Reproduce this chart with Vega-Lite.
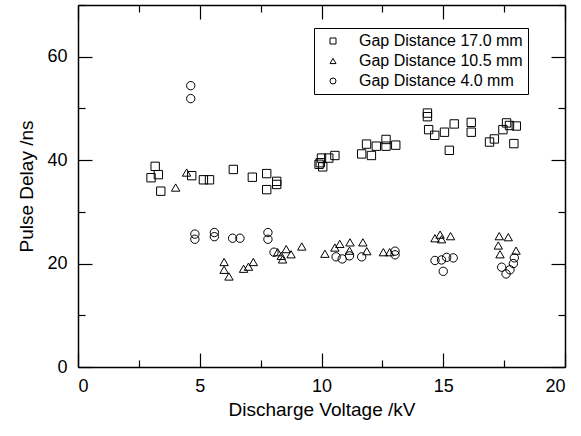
{
  "$schema": "https://vega.github.io/schema/vega-lite/v6.json",
  "width": 487,
  "height": 362,
  "autosize": {"type": "none"},
  "padding": {"left": 78, "top": 5, "right": 16, "bottom": 69},
  "background": "white",
  "config": {
    "view": {"stroke": null},
    "font": "Liberation Sans",
    "axis": {
      "domainColor": "black",
      "domainWidth": 1.5,
      "tickColor": "black",
      "tickWidth": 1.2,
      "grid": false,
      "labelFont": "Liberation Sans",
      "labelFontSize": 18,
      "labelColor": "black",
      "titleFont": "Liberation Sans",
      "titleFontSize": 19,
      "titleFontWeight": "normal",
      "titleColor": "black"
    }
  },
  "data": {
    "values": [
      {"v": 3.0, "d": 36.6, "gap": "Gap Distance 17.0 mm"},
      {"v": 3.17, "d": 38.8, "gap": "Gap Distance 17.0 mm"},
      {"v": 3.3, "d": 37.2, "gap": "Gap Distance 17.0 mm"},
      {"v": 3.4, "d": 34.0, "gap": "Gap Distance 17.0 mm"},
      {"v": 4.67, "d": 37.0, "gap": "Gap Distance 17.0 mm"},
      {"v": 5.15, "d": 36.2, "gap": "Gap Distance 17.0 mm"},
      {"v": 5.4, "d": 36.2, "gap": "Gap Distance 17.0 mm"},
      {"v": 6.38, "d": 38.2, "gap": "Gap Distance 17.0 mm"},
      {"v": 7.16, "d": 36.7, "gap": "Gap Distance 17.0 mm"},
      {"v": 7.75, "d": 37.4, "gap": "Gap Distance 17.0 mm"},
      {"v": 7.75, "d": 34.3, "gap": "Gap Distance 17.0 mm"},
      {"v": 8.16, "d": 35.3, "gap": "Gap Distance 17.0 mm"},
      {"v": 8.16, "d": 35.9, "gap": "Gap Distance 17.0 mm"},
      {"v": 9.9, "d": 39.2, "gap": "Gap Distance 17.0 mm"},
      {"v": 9.95, "d": 39.5, "gap": "Gap Distance 17.0 mm"},
      {"v": 10.0, "d": 40.4, "gap": "Gap Distance 17.0 mm"},
      {"v": 10.05, "d": 38.7, "gap": "Gap Distance 17.0 mm"},
      {"v": 10.3, "d": 40.4, "gap": "Gap Distance 17.0 mm"},
      {"v": 10.55, "d": 40.9, "gap": "Gap Distance 17.0 mm"},
      {"v": 11.65, "d": 41.2, "gap": "Gap Distance 17.0 mm"},
      {"v": 11.85, "d": 43.1, "gap": "Gap Distance 17.0 mm"},
      {"v": 12.05, "d": 40.9, "gap": "Gap Distance 17.0 mm"},
      {"v": 12.25, "d": 42.7, "gap": "Gap Distance 17.0 mm"},
      {"v": 12.65, "d": 44.0, "gap": "Gap Distance 17.0 mm"},
      {"v": 12.65, "d": 42.7, "gap": "Gap Distance 17.0 mm"},
      {"v": 13.05, "d": 42.9, "gap": "Gap Distance 17.0 mm"},
      {"v": 14.35, "d": 49.1, "gap": "Gap Distance 17.0 mm"},
      {"v": 14.35, "d": 48.4, "gap": "Gap Distance 17.0 mm"},
      {"v": 14.4, "d": 45.9, "gap": "Gap Distance 17.0 mm"},
      {"v": 14.65, "d": 44.8, "gap": "Gap Distance 17.0 mm"},
      {"v": 15.05, "d": 45.4, "gap": "Gap Distance 17.0 mm"},
      {"v": 15.25, "d": 41.9, "gap": "Gap Distance 17.0 mm"},
      {"v": 15.45, "d": 47.0, "gap": "Gap Distance 17.0 mm"},
      {"v": 16.15, "d": 47.3, "gap": "Gap Distance 17.0 mm"},
      {"v": 16.15, "d": 45.4, "gap": "Gap Distance 17.0 mm"},
      {"v": 16.9, "d": 43.5, "gap": "Gap Distance 17.0 mm"},
      {"v": 17.1, "d": 44.1, "gap": "Gap Distance 17.0 mm"},
      {"v": 17.45, "d": 45.9, "gap": "Gap Distance 17.0 mm"},
      {"v": 17.6, "d": 47.2, "gap": "Gap Distance 17.0 mm"},
      {"v": 17.72, "d": 46.7, "gap": "Gap Distance 17.0 mm"},
      {"v": 18.0, "d": 46.6, "gap": "Gap Distance 17.0 mm"},
      {"v": 17.9, "d": 43.2, "gap": "Gap Distance 17.0 mm"},

      {"v": 4.01, "d": 34.7, "gap": "Gap Distance 10.5 mm"},
      {"v": 4.46, "d": 37.6, "gap": "Gap Distance 10.5 mm"},
      {"v": 6.0, "d": 20.3, "gap": "Gap Distance 10.5 mm"},
      {"v": 6.0, "d": 18.8, "gap": "Gap Distance 10.5 mm"},
      {"v": 6.2, "d": 17.5, "gap": "Gap Distance 10.5 mm"},
      {"v": 6.8, "d": 19.0, "gap": "Gap Distance 10.5 mm"},
      {"v": 7.0, "d": 19.4, "gap": "Gap Distance 10.5 mm"},
      {"v": 7.2, "d": 20.3, "gap": "Gap Distance 10.5 mm"},
      {"v": 8.2, "d": 22.2, "gap": "Gap Distance 10.5 mm"},
      {"v": 8.35, "d": 21.5, "gap": "Gap Distance 10.5 mm"},
      {"v": 8.4, "d": 20.8, "gap": "Gap Distance 10.5 mm"},
      {"v": 8.55, "d": 22.8, "gap": "Gap Distance 10.5 mm"},
      {"v": 8.75, "d": 21.8, "gap": "Gap Distance 10.5 mm"},
      {"v": 9.19, "d": 23.3, "gap": "Gap Distance 10.5 mm"},
      {"v": 10.14, "d": 21.9, "gap": "Gap Distance 10.5 mm"},
      {"v": 10.55, "d": 23.1, "gap": "Gap Distance 10.5 mm"},
      {"v": 10.75, "d": 23.8, "gap": "Gap Distance 10.5 mm"},
      {"v": 11.17, "d": 24.1, "gap": "Gap Distance 10.5 mm"},
      {"v": 11.15, "d": 22.5, "gap": "Gap Distance 10.5 mm"},
      {"v": 11.7, "d": 24.1, "gap": "Gap Distance 10.5 mm"},
      {"v": 11.86, "d": 22.4, "gap": "Gap Distance 10.5 mm"},
      {"v": 12.54, "d": 22.2, "gap": "Gap Distance 10.5 mm"},
      {"v": 12.8, "d": 22.2, "gap": "Gap Distance 10.5 mm"},
      {"v": 14.66, "d": 24.9, "gap": "Gap Distance 10.5 mm"},
      {"v": 14.87, "d": 25.6, "gap": "Gap Distance 10.5 mm"},
      {"v": 14.93, "d": 24.7, "gap": "Gap Distance 10.5 mm"},
      {"v": 15.3, "d": 25.3, "gap": "Gap Distance 10.5 mm"},
      {"v": 17.3, "d": 25.3, "gap": "Gap Distance 10.5 mm"},
      {"v": 17.67, "d": 25.1, "gap": "Gap Distance 10.5 mm"},
      {"v": 17.26, "d": 23.5, "gap": "Gap Distance 10.5 mm"},
      {"v": 17.33, "d": 21.8, "gap": "Gap Distance 10.5 mm"},
      {"v": 17.99, "d": 22.5, "gap": "Gap Distance 10.5 mm"},

      {"v": 4.63, "d": 54.4, "gap": "Gap Distance 4.0 mm"},
      {"v": 4.63, "d": 51.9, "gap": "Gap Distance 4.0 mm"},
      {"v": 4.8, "d": 25.7, "gap": "Gap Distance 4.0 mm"},
      {"v": 4.8, "d": 24.7, "gap": "Gap Distance 4.0 mm"},
      {"v": 5.6, "d": 26.0, "gap": "Gap Distance 4.0 mm"},
      {"v": 5.6, "d": 25.2, "gap": "Gap Distance 4.0 mm"},
      {"v": 6.35, "d": 24.9, "gap": "Gap Distance 4.0 mm"},
      {"v": 6.65, "d": 24.9, "gap": "Gap Distance 4.0 mm"},
      {"v": 7.8, "d": 26.0, "gap": "Gap Distance 4.0 mm"},
      {"v": 7.8, "d": 24.7, "gap": "Gap Distance 4.0 mm"},
      {"v": 8.05, "d": 22.2, "gap": "Gap Distance 4.0 mm"},
      {"v": 10.6, "d": 21.3, "gap": "Gap Distance 4.0 mm"},
      {"v": 10.85, "d": 20.9, "gap": "Gap Distance 4.0 mm"},
      {"v": 11.15, "d": 21.5, "gap": "Gap Distance 4.0 mm"},
      {"v": 11.65, "d": 21.3, "gap": "Gap Distance 4.0 mm"},
      {"v": 13.02, "d": 22.4, "gap": "Gap Distance 4.0 mm"},
      {"v": 13.02, "d": 21.7, "gap": "Gap Distance 4.0 mm"},
      {"v": 14.66, "d": 20.6, "gap": "Gap Distance 4.0 mm"},
      {"v": 14.93, "d": 20.7, "gap": "Gap Distance 4.0 mm"},
      {"v": 15.14, "d": 21.2, "gap": "Gap Distance 4.0 mm"},
      {"v": 15.41, "d": 21.1, "gap": "Gap Distance 4.0 mm"},
      {"v": 15.0, "d": 18.5, "gap": "Gap Distance 4.0 mm"},
      {"v": 17.4, "d": 19.3, "gap": "Gap Distance 4.0 mm"},
      {"v": 17.58, "d": 18.0, "gap": "Gap Distance 4.0 mm"},
      {"v": 17.74, "d": 18.8, "gap": "Gap Distance 4.0 mm"},
      {"v": 17.88, "d": 20.0, "gap": "Gap Distance 4.0 mm"},
      {"v": 17.92, "d": 21.1, "gap": "Gap Distance 4.0 mm"}
    ]
  },
  "layer": [
    {
      "mark": {"type": "point", "filled": false, "stroke": "black", "strokeWidth": 1, "size": 70, "opacity": 1},
      "encoding": {
        "x": {
          "field": "v", "type": "quantitative",
          "scale": {"domain": [0, 20], "nice": false, "zero": false},
          "axis": {
            "orient": "bottom",
            "values": [0, 2.5, 5, 7.5, 10, 12.5, 15, 17.5, 20],
            "labelExpr": "datum.value % 5 === 0 ? datum.label : ''",
            "tickSize": {"condition": {"test": "datum.value % 5 === 0", "value": -14}, "value": -7},
            "labelPadding": 24,
            "title": "Discharge Voltage /kV",
            "titlePadding": 5
          }
        },
        "y": {
          "field": "d", "type": "quantitative",
          "scale": {"domain": [0, 70], "nice": false, "zero": false},
          "axis": {
            "orient": "left",
            "values": [0, 10, 20, 30, 40, 50, 60, 70],
            "labelExpr": "datum.value % 20 === 0 ? datum.label : ''",
            "tickSize": {"condition": {"test": "datum.value % 20 === 0", "value": -14}, "value": -7},
            "labelPadding": 25,
            "title": "Pulse Delay /ns",
            "titlePadding": 10
          }
        },
        "shape": {
          "field": "gap", "type": "nominal",
          "scale": {
            "domain": ["Gap Distance 17.0 mm", "Gap Distance 10.5 mm", "Gap Distance 4.0 mm"],
            "range": ["square", "triangle-up", "circle"]
          },
          "legend": {
            "orient": "none",
            "legendX": 236,
            "legendY": 23,
            "title": null,
            "strokeColor": "black",
            "fillColor": "white",
            "padding": 5,
            "symbolOffset": 6,
            "symbolSize": 36,
            "symbolStrokeColor": "black",
            "symbolFillColor": "transparent",
            "symbolStrokeWidth": 1,
            "labelFont": "Liberation Sans",
            "labelFontSize": 16,
            "labelColor": "black",
            "labelOffset": 18,
            "labelLimit": 300,
            "rowPadding": 4
          }
        }
      }
    },
    {
      "mark": {"type": "point", "opacity": 0},
      "encoding": {
        "x": {
          "field": "v", "type": "quantitative",
          "axis": {
            "orient": "top",
            "values": [0, 2.5, 5, 7.5, 10, 12.5, 15, 17.5, 20],
            "labels": false,
            "tickSize": {"condition": {"test": "datum.value % 5 === 0", "value": -14}, "value": -7},
            "title": null
          }
        },
        "y": {
          "field": "d", "type": "quantitative",
          "axis": {
            "orient": "right",
            "values": [0, 10, 20, 30, 40, 50, 60, 70],
            "labels": false,
            "tickSize": {"condition": {"test": "datum.value % 20 === 0", "value": -14}, "value": -7},
            "title": null
          }
        }
      }
    }
  ],
  "resolve": {"axis": {"x": "independent", "y": "independent"}}
}
